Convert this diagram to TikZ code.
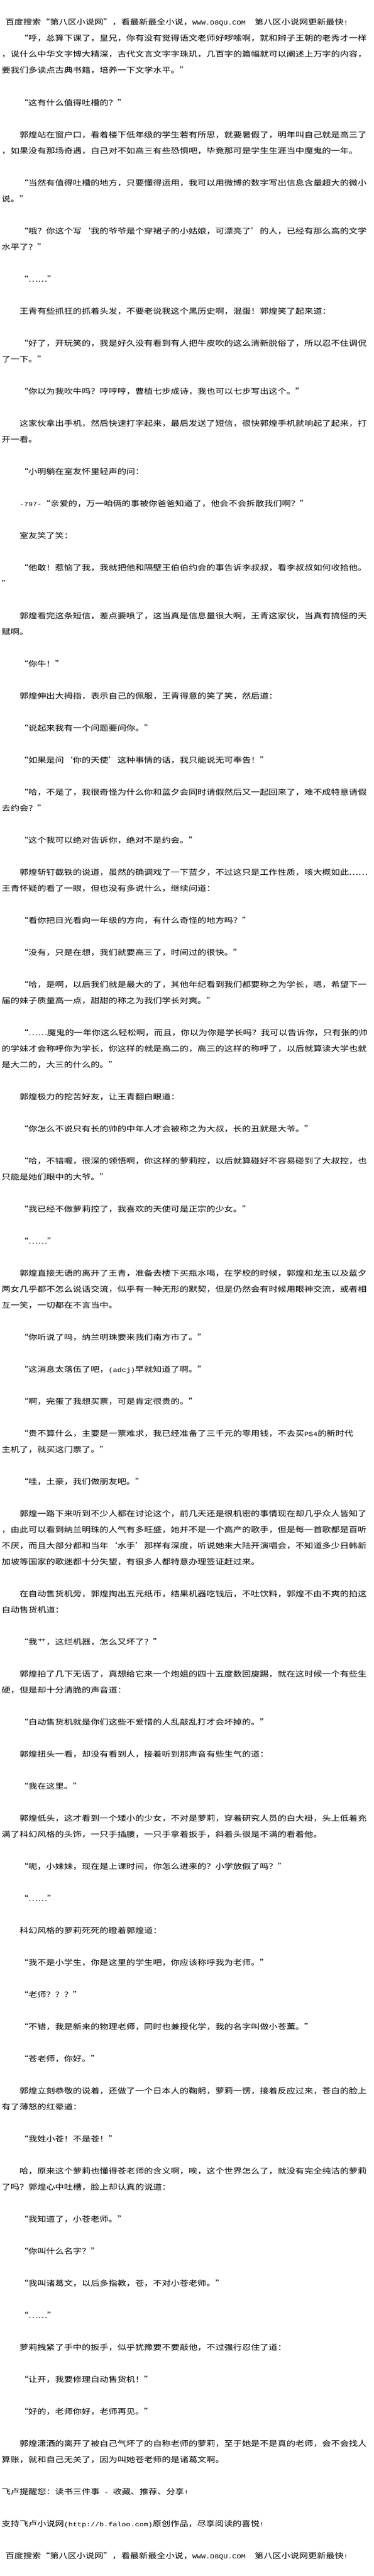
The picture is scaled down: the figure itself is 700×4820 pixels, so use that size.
\documentclass[tikz,border=0pt]{standalone}
\usepackage{fontspec}
\setmainfont{Noto Sans CJK SC}[FakeStretch=1.19]
\newfontfamily\latfont{Liberation Mono}[Scale=0.83,FakeStretch=1.19]
\newcommand\latrun[1]{{\latfont #1}}
\usepackage{tikz}

\begin{document}
\begin{tikzpicture}[x=1pt,y=-1pt]
  \tikzstyle{ln}=[anchor=base west,inner sep=0pt,text=black,
                  font=\fontsize{14pt}{14pt}\selectfont]

  \fill[white] (0,0) rectangle (700,4820);
  \useasboundingbox (0,0) rectangle (700,4820);

  \node[ln] (0)   at (10,47)    {百度搜索“第八区小说网”，看最新最全小说，\latrun{WWW.D8QU.COM}\hspace{17pt}第八区小说网更新最快\latrun{!}};
  \node[ln] (1)   at (36.3,77)  {“呼，总算下课了，皇兄，你有没有觉得语文老师好啰嗦啊，就和辫子王朝的老秀才一样};
  \node[ln] (2)   at (3,107)    {，说什么中华文字博大精深，古代文言文字字珠玑，几百字的篇幅就可以阐述上万字的内容，};
  \node[ln] (3)   at (3,137)    {要我们多读点古典书籍，培养一下文学水平。”};
  \node[ln] (5)   at (36.3,197) {“这有什么值得吐槽的？”};
  \node[ln] (7)   at (36.3,257) {郭煌站在窗户口，看着楼下低年级的学生若有所思，就要暑假了，明年叫自己就是高三了};
  \node[ln] (8)   at (3,287)    {，如果没有那场奇遇，自己对不如高三有些恐惧吧，毕竟那可是学生生涯当中魔鬼的一年。};
  \node[ln] (10)  at (36.3,347) {“当然有值得吐槽的地方，只要懂得运用，我可以用微博的数字写出信息含量超大的微小};
  \node[ln] (11)  at (3,377)    {说。”};
  \node[ln] (13)  at (36.3,437) {“哦？你这个写‘我的爷爷是个穿裙子的小姑娘，可漂亮了’的人，已经有那么高的文学};
  \node[ln] (14)  at (3,467)    {水平了？”};
  \node[ln] (16)  at (36.3,527) {“……”};
  \node[ln] (18)  at (36.3,587) {王青有些抓狂的抓着头发，不要老说我这个黑历史啊，混蛋！郭煌笑了起来道：};
  \node[ln] (20)  at (36.3,647) {“好了，开玩笑的，我是好久没有看到有人把牛皮吹的这么清新脱俗了，所以忍不住调侃};
  \node[ln] (21)  at (3,677)    {了一下。”};
  \node[ln] (23)  at (36.3,737) {“你以为我吹牛吗？哼哼哼，曹植七步成诗，我也可以七步写出这个。”};
  \node[ln] (25)  at (36.3,797) {这家伙拿出手机，然后快速打字起来，最后发送了短信，很快郭煌手机就响起了起来，打};
  \node[ln] (26)  at (3,827)    {开一看。};
  \node[ln] (28)  at (36.3,887) {“小明躺在室友怀里轻声的问：};
  \node[ln] (30)  at (36.3,947) {\latrun{-797-}“亲爱的，万一咱俩的事被你爸爸知道了，他会不会拆散我们啊？”};
  \node[ln] (32)  at (36.3,1007) {室友笑了笑：};
  \node[ln] (34)  at (36.3,1067) {“他敢！惹恼了我，我就把他和隔壁王伯伯约会的事告诉李叔叔，看李叔叔如何收拾他。};
  \node[ln] (35)  at (3,1097)   {”};
  \node[ln] (37)  at (36.3,1157) {郭煌看完这条短信，差点要喷了，这当真是信息量很大啊，王青这家伙，当真有搞怪的天};
  \node[ln] (38)  at (3,1187)   {赋啊。};
  \node[ln] (40)  at (36.3,1247) {“你牛！”};
  \node[ln] (42)  at (36.3,1307) {郭煌伸出大拇指，表示自己的佩服，王青得意的笑了笑，然后道：};
  \node[ln] (44)  at (36.3,1367) {“说起来我有一个问题要问你。”};
  \node[ln] (46)  at (36.3,1427) {“如果是问‘你的天使’这种事情的话，我只能说无可奉告！”};
  \node[ln] (48)  at (36.3,1487) {“哈，不是了，我很奇怪为什么你和蓝夕会同时请假然后又一起回来了，难不成特意请假};
  \node[ln] (49)  at (3,1517)   {去约会？”};
  \node[ln] (51)  at (36.3,1577) {“这个我可以绝对告诉你，绝对不是约会。”};
  \node[ln] (53)  at (36.3,1637) {郭煌斩钉截铁的说道，虽然的确调戏了一下蓝夕，不过这只是工作性质，咳大概如此……};
  \node[ln] (54)  at (3,1667)   {王青怀疑的看了一眼，但也没有多说什么，继续问道：};
  \node[ln] (56)  at (36.3,1727) {“看你把目光看向一年级的方向，有什么奇怪的地方吗？”};
  \node[ln] (58)  at (36.3,1787) {“没有，只是在想，我们就要高三了，时间过的很快。”};
  \node[ln] (60)  at (36.3,1847) {“哈，是啊，以后我们就是最大的了，其他年纪看到我们都要称之为学长，嗯，希望下一};
  \node[ln] (61)  at (3,1877)   {届的妹子质量高一点，甜甜的称之为我们学长对爽。”};
  \node[ln] (63)  at (36.3,1937) {“……魔鬼的一年你这么轻松啊，而且，你以为你是学长吗？我可以告诉你，只有张的帅};
  \node[ln] (64)  at (3,1967)   {的学妹才会称呼你为学长，你这样的就是高二的，高三的这样的称呼了，以后就算读大学也就};
  \node[ln] (65)  at (3,1997)   {是大二的，大三的什么的。”};
  \node[ln] (67)  at (36.3,2057) {郭煌极力的挖苦好友，让王青翻白眼道：};
  \node[ln] (69)  at (36.3,2117) {“你怎么不说只有长的帅的中年人才会被称之为大叔，长的丑就是大爷。”};
  \node[ln] (71)  at (36.3,2177) {“哈，不错喔，很深的领悟啊，你这样的萝莉控，以后就算碰好不容易碰到了大叔控，也};
  \node[ln] (72)  at (3,2207)   {只能是她们眼中的大爷。”};
  \node[ln] (74)  at (36.3,2267) {“我已经不做萝莉控了，我喜欢的天使可是正宗的少女。”};
  \node[ln] (76)  at (36.3,2327) {“……”};
  \node[ln] (78)  at (36.3,2387) {郭煌直接无语的离开了王青，准备去楼下买瓶水喝，在学校的时候，郭煌和龙玉以及蓝夕};
  \node[ln] (79)  at (3,2417)   {两女几乎都不怎么说话交流，似乎有一种无形的默契，但是仍然会有时候用眼神交流，或者相};
  \node[ln] (80)  at (3,2447)   {互一笑，一切都在不言当中。};
  \node[ln] (82)  at (36.3,2507) {“你听说了吗，纳兰明珠要来我们南方市了。”};
  \node[ln] (84)  at (36.3,2567) {“这消息太落伍了吧，\latrun{(adcj)}早就知道了啊。”};
  \node[ln] (86)  at (36.3,2627) {“啊，完蛋了我想买票，可是肯定很贵的。”};
  \node[ln] (88)  at (36.3,2687) {“贵不算什么，主要是一票难求，我已经准备了三千元的零用钱，不去买\latrun{PS4}的新时代};
  \node[ln] (89)  at (3,2717)   {主机了，就买这门票了。”};
  \node[ln] (91)  at (36.3,2777) {“哇，土豪，我们做朋友吧。”};
  \node[ln] (93)  at (36.3,2837) {郭煌一路下来听到不少人都在讨论这个，前几天还是很机密的事情现在却几乎众人皆知了};
  \node[ln] (94)  at (3,2867)   {，由此可以看到纳兰明珠的人气有多旺盛，她并不是一个高产的歌手，但是每一首歌都是百听};
  \node[ln] (95)  at (3,2897)   {不厌，而且大部分都和当年‘水手’那样有深度，听说她来大陆开演唱会，不知道多少日韩新};
  \node[ln] (96)  at (3,2927)   {加坡等国家的歌迷都十分失望，有很多人都特意办理签证赶过来。};
  \node[ln] (98)  at (36.3,2987) {在自动售货机旁，郭煌掏出五元纸币，结果机器吃钱后，不吐饮料，郭煌不由不爽的拍这};
  \node[ln] (99)  at (3,3017)   {自动售货机道：};
  \node[ln] (101) at (36.3,3077) {“我艹，这烂机器，怎么又坏了？”};
  \node[ln] (103) at (36.3,3137) {郭煌拍了几下无语了，真想给它来一个炮姐的四十五度数回旋踢，就在这时候一个有些生};
  \node[ln] (104) at (3,3167)   {硬，但是却十分清脆的声音道：};
  \node[ln] (106) at (36.3,3227) {“自动售货机就是你们这些不爱惜的人乱敲乱打才会坏掉的。”};
  \node[ln] (108) at (36.3,3287) {郭煌扭头一看，却没有看到人，接着听到那声音有些生气的道：};
  \node[ln] (110) at (36.3,3347) {“我在这里。”};
  \node[ln] (112) at (36.3,3407) {郭煌低头，这才看到一个矮小的少女，不对是萝莉，穿着研究人员的白大褂，头上低着充};
  \node[ln] (113) at (3,3437)   {满了科幻风格的头饰，一只手插腰，一只手拿着扳手，斜着头很是不满的看着他。};
  \node[ln] (115) at (36.3,3497) {“呃，小妹妹，现在是上课时间，你怎么进来的？小学放假了吗？”};
  \node[ln] (117) at (36.3,3557) {“……”};
  \node[ln] (119) at (36.3,3617) {科幻风格的萝莉死死的瞪着郭煌道：};
  \node[ln] (121) at (36.3,3677) {“我不是小学生，你是这里的学生吧，你应该称呼我为老师。”};
  \node[ln] (123) at (36.3,3737) {“老师？？？”};
  \node[ln] (125) at (36.3,3797) {“不错，我是新来的物理老师，同时也兼授化学，我的名字叫做小苍薰。”};
  \node[ln] (127) at (36.3,3857) {“苍老师，你好。”};
  \node[ln] (129) at (36.3,3917) {郭煌立刻恭敬的说着，还做了一个日本人的鞠躬，萝莉一愣，接着反应过来，苍白的脸上};
  \node[ln] (130) at (3,3947)   {有了薄怒的红晕道：};
  \node[ln] (132) at (36.3,4007) {“我姓小苍！不是苍！”};
  \node[ln] (134) at (36.3,4067) {哈，原来这个萝莉也懂得苍老师的含义啊，唉，这个世界怎么了，就没有完全纯洁的萝莉};
  \node[ln] (135) at (3,4097)   {了吗？郭煌心中吐槽，脸上却认真的说道：};
  \node[ln] (137) at (36.3,4157) {“我知道了，小苍老师。”};
  \node[ln] (139) at (36.3,4217) {“你叫什么名字？”};
  \node[ln] (141) at (36.3,4277) {“我叫诸葛文，以后多指教，苍，不对小苍老师。”};
  \node[ln] (143) at (36.3,4337) {“……”};
  \node[ln] (145) at (36.3,4397) {萝莉拽紧了手中的扳手，似乎犹豫要不要敲他，不过强行忍住了道：};
  \node[ln] (147) at (36.3,4457) {“让开，我要修理自动售货机！”};
  \node[ln] (149) at (36.3,4517) {“好的，老师你好，老师再见。”};
  \node[ln] (151) at (36.3,4577) {郭煌潇洒的离开了被自己气坏了的自称老师的萝莉，至于她是不是真的老师，会不会找人};
  \node[ln] (152) at (3,4607)   {算账，就和自己无关了，因为叫她苍老师的是诸葛文啊。};
  \node[ln] (154) at (3,4667)   {飞卢提醒您：读书三件事\latrun{ - }收藏、推荐、分享\latrun{!}};
  \node[ln] (156) at (3,4727)   {支持飞卢小说网\latrun{(http://b.faloo.com)}原创作品，尽享阅读的喜悦\latrun{!}};
  \node[ln] (158) at (10,4787)  {百度搜索“第八区小说网”，看最新最全小说，\latrun{WWW.D8QU.COM}\hspace{17pt}第八区小说网更新最快\latrun{!}};

%  \node[ln] (4) at (3,167) {};
\end{tikzpicture}
\end{document}
